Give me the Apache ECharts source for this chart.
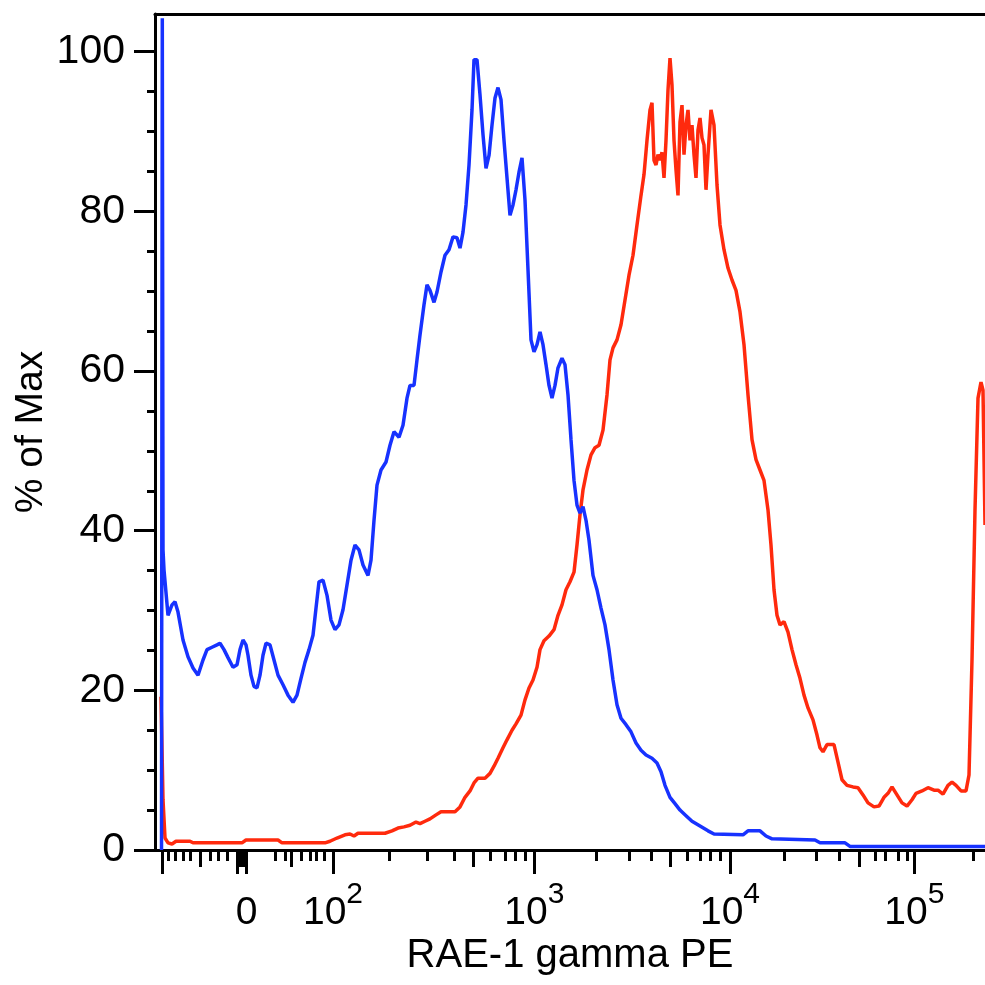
<!DOCTYPE html>
<html><head><meta charset="utf-8">
<script src="https://cdn.jsdelivr.net/npm/echarts@6/dist/echarts.min.js"></script>
<style>html,body{margin:0;padding:0;background:#fff}#c{width:985px;height:985px}</style>
</head><body><div id="c"></div>
<script>
// x values are display channels of the biexponential PE axis (0..830), y = % of Max
const blueSeries = [
[6.5,0],[7.3,104.2],[8,37.6],[9,35.1],[13,29.4],[17,30.7],[20,31.1],[23,29.8],[28,26.3],[33,24.2],
[38,22.8],[43,21.9],[48,23.8],[52,25.1],[57,25.4],[62,25.7],[65,25.9],[69,25.1],[73,24.1],[78,22.9],
[82,23.2],[85,25.1],[88,26.3],[91,25.7],[93,24.4],[96,21.9],[99,20.5],[102,20.3],[105,21.9],[108,24.4],
[111,25.9],[115,25.7],[119,23.8],[123,21.9],[128,20.7],[133,19.4],[138,18.5],[142,19.4],[146,21.5],[150,23.5],
[154,25.1],[158,26.9],[161,30.3],[164,33.6],[168,33.8],[172,31.9],[176,28.8],[180,27.6],[184,28.2],[188,30.1],
[192,33.2],[196,36.3],[200,38.2],[204,37.6],[208,35.7],[213,34.4],[216,36.3],[219,41.3],[222,45.7],[226,47.6],
[231,48.6],[235,50.7],[239,52.4],[244,51.7],[248,53.2],[252,56.6],[255,58.2],[259,58.2],[262,61.4],[265,64.5],
[269,68.3],[272,70.8],[275,70.1],[279,68.6],[282,69.9],[286,72.4],[290,74.5],[294,75.2],[298,76.8],[302,76.7],
[305,75.4],[308,77.4],[311,80.8],[314,85.8],[317,92.7],[319,99.0],[322,99.0],[325,94.6],[328,89.6],[331,85.4],
[334,87.0],[337,90.8],[340,94.2],[343,95.5],[346,94.0],[349,88.9],[352,84.2],[355,79.5],[358,80.8],[361,82.7],
[364,84.9],[367,86.7],[370,81.4],[373,72.7],[376,63.9],[379,62.4],[382,63.3],[385,64.9],[388,63.3],[391,60.8],
[394,58.2],[397,56.6],[400,58.2],[403,60.4],[407,61.6],[410,60.8],[413,57.0],[416,51.4],[419,46.3],[422,43.2],
[425,42.2],[428,43.0],[431,41.3],[434,38.8],[438,34.4],[442,32.6],[446,30.3],[450,28.2],[454,25.1],[458,21.3],
[462,18.2],[466,16.5],[471,15.7],[476,14.8],[481,13.4],[486,12.5],[491,11.9],[497,11.5],[502,10.9],[506,9.8],
[510,8.1],[515,6.6],[520,5.8],[525,5.0],[531,4.3],[537,3.6],[545,3.0],[553,2.4],[559,2.0],[588,1.9],
[593,2.4],[605,2.4],[611,1.75],[617,1.4],[660,1.25],[665,0.9],[690,0.9],[695,0.45],[830,0.45]
];
const redSeries = [
[6,19.2],[8,6.3],[10,1.5],[13,0.9],[17,0.75],[21,1.1],[35,1.1],[38,0.9],[87,0.9],[91,1.25],
[123,1.25],[127,0.9],[170,0.9],[175,1.1],[182,1.5],[190,1.9],[195,2.0],[199,1.75],[203,2.1],[230,2.1],
[237,2.4],[243,2.75],[249,2.9],[255,3.1],[261,3.5],[265,3.3],[270,3.6],[275,3.9],[281,4.4],[286,4.8],
[300,4.8],[305,5.4],[310,6.6],[315,7.4],[319,8.4],[323,9.0],[330,9.0],[335,9.6],[339,10.5],[343,11.5],
[348,12.8],[352,13.8],[357,15.0],[361,15.8],[366,16.9],[370,18.8],[374,20.3],[378,21.3],[382,22.9],[385,25.1],
[389,26.2],[394,26.8],[399,27.6],[403,29.4],[407,30.7],[411,32.6],[415,33.6],[419,34.8],[422,38.2],[425,42.0],
[428,45.1],[432,47.6],[436,49.5],[440,50.4],[444,50.7],[448,52.6],[452,57.0],[455,61.4],[458,62.9],[462,63.9],
[466,65.8],[470,68.9],[474,72.0],[478,74.5],[482,78.3],[486,82.0],[489,84.6],[492,88.9],[495,92.7],[497,93.6],
[499,86.4],[501,85.8],[503,87.1],[505,86.4],[507,87.4],[509,84.2],[511,88.9],[513,95.2],[515,99.2],[517,95.8],
[519,88.9],[521,85.2],[523,82.0],[525,91.2],[527,93.3],[529,87.1],[531,90.8],[533,92.7],[535,88.9],[537,90.8],
[539,87.1],[541,84.2],[543,90.2],[545,91.7],[547,89.2],[549,88.3],[551,82.7],[553,87.1],[556,92.7],[559,90.8],
[562,83.3],[565,78.3],[569,75.2],[573,72.9],[577,71.4],[581,70.1],[585,67.4],[589,63.3],[593,57.0],[597,51.4],
[601,48.9],[605,47.6],[609,46.3],[613,42.6],[616,38.2],[619,32.6],[622,29.4],[625,28.2],[629,28.6],[633,27.3],
[637,25.1],[641,23.2],[645,21.5],[649,19.4],[653,17.8],[658,16.3],[662,14.4],[665,12.8],[668,12.3],[672,13.2],
[679,13.2],[683,11.0],[687,8.8],[692,8.1],[698,7.9],[703,7.8],[708,6.9],[713,5.9],[719,5.4],[724,5.5],
[729,6.6],[733,7.1],[737,7.9],[742,6.9],[747,5.9],[752,5.5],[757,6.3],[761,7.1],[767,7.4],[773,7.8],
[779,7.5],[783,7.5],[788,7.0],[793,8.1],[797,8.5],[801,8.1],[806,7.4],[811,7.4],[814,9.4],[817,23.8],
[820,42.6],[823,56.6],[826,58.6],[828,57.6],[830,40.7]
];
// axis ticks (display channels)
const xLabelValues = [91.7, 178, 379.3, 575, 759.3];
const xLabelTexts = ['{n|0}', '{n|10}{s|2}', '{n|10}{s|3}', '{n|10}{s|4}', '{n|10}{s|5}'];
const xMajorTicks = [7.7, 82.3, 91.7, 178, 379.3, 575, 759.3];
const xMediumTicks = [45.7, 83.5, 85, 86.5, 88, 89.5, 136.7, 318.3, 515.7, 704];
const xMinorTicks = [13.3,20,28.3,35,55,63.3,72.3,120,130,146.7,155,161.7,169,234,272.7,299,335,350.7,360.7,370,
  441.7,474,496.7,532.7,545,555,565,629.3,661.7,684.3,720,730,743.3,752.7,818.3];
const yLabelValues = [0, 20, 40, 60, 80, 100];
const yMinorTicks = [5,10,15,25,30,35,45,50,55,65,70,75,85,90,95];
const xTitle = 'RAE-1 gamma PE';
const yTitle = '% of Max';

const FONT = '"Liberation Sans", Arial, Helvetica, sans-serif';
const X_MAX = 830, Y_MAX = 104.72;
const blank = {axisLine:{show:false}, axisLabel:{show:false}, splitLine:{show:false}};
function xAx(extra){ return Object.assign({type:'value', position:'bottom', min:0, max:X_MAX, splitLine:{show:false}}, extra); }
const chart = echarts.init(document.getElementById('c'), null, {renderer:'canvas'});
chart.setOption({
  animation:false,
  backgroundColor:'#fff',
  grid:{left:155, right:0, top:14, bottom:135, outerBoundsMode:'none'},
  xAxis:[
    xAx({
      axisLine:{show:true, lineStyle:{color:'#000', width:3}},
      axisTick:{show:true, customValues:xMajorTicks, length:24, lineStyle:{color:'#000', width:3}},
      axisLabel:{show:true, customValues:xLabelValues, margin:30, color:'#000', fontFamily:FONT,
        formatter:function(v){ const i = xLabelValues.indexOf(v); return i>=0 ? xLabelTexts[i] : ''; },
        rich:{
          n:{fontSize:39, lineHeight:53, verticalAlign:'bottom', color:'#000', fontFamily:FONT},
          s:{fontSize:30, lineHeight:30, verticalAlign:'top', color:'#000', fontFamily:FONT}
        }},
      name:xTitle, nameLocation:'middle', nameGap:86, nameMoveOverlap:false,
      nameTextStyle:{fontSize:40, color:'#000', fontFamily:FONT}
    }),
    xAx(Object.assign({}, blank, {axisTick:{show:true, customValues:xMediumTicks, length:17, lineStyle:{color:'#000', width:3}}})),
    xAx(Object.assign({}, blank, {axisTick:{show:true, customValues:xMinorTicks, length:11, lineStyle:{color:'#000', width:3}}})),
    xAx({position:'top', axisLine:{show:true, lineStyle:{color:'#000', width:3}}, axisTick:{show:false}, axisLabel:{show:false}})
  ],
  yAxis:[
    {type:'value', position:'left', min:0, max:Y_MAX, splitLine:{show:false},
      axisLine:{show:true, lineStyle:{color:'#000', width:3}},
      axisTick:{show:true, customValues:yLabelValues, length:21, lineStyle:{color:'#000', width:3}},
      axisLabel:{show:true, customValues:yLabelValues, margin:30, fontSize:41, color:'#000', fontFamily:FONT},
      name:yTitle, nameLocation:'middle', nameGap:104, nameMoveOverlap:false,
      nameTextStyle:{fontSize:39, color:'#000', fontFamily:FONT}
    },
    {type:'value', position:'left', min:0, max:Y_MAX, axisLine:{show:false}, axisLabel:{show:false}, splitLine:{show:false},
      axisTick:{show:true, customValues:yMinorTicks, length:8, lineStyle:{color:'#000', width:3}}}
  ],
  series:[
    {type:'line', name:'red', xAxisIndex:0, yAxisIndex:0, data:redSeries, showSymbol:false, symbol:'none',
      lineStyle:{color:'#ff2a0d', width:3.5}, z:2},
    {type:'line', name:'blue', xAxisIndex:0, yAxisIndex:0, data:blueSeries, showSymbol:false, symbol:'none',
      lineStyle:{color:'#1732ff', width:3.5}, z:3}
  ]
});
</script></body></html>
